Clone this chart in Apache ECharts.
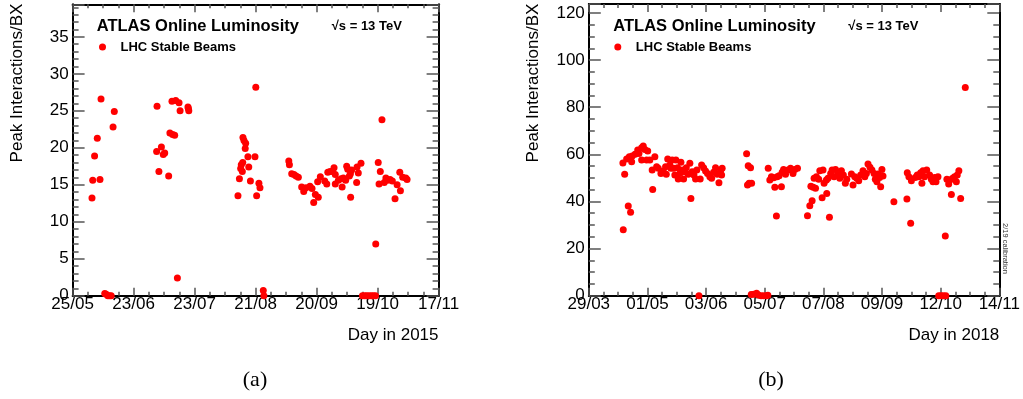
<!DOCTYPE html>
<html>
<head>
<meta charset="utf-8">
<script src="https://cdn.jsdelivr.net/npm/echarts@6/dist/echarts.min.js"></script>
<style>html,body{margin:0;padding:0;background:#fff;}#c{width:1023px;height:399px;}</style>
</head>
<body>
<div id="c"></div>
<script>
// ---- Data (x = days since first axis tick, y = peak interactions per bunch crossing) ----
const ticks2015 = ['25/05','23/06','23/07','21/08','20/09','19/10','17/11'];
const ticks2018 = ['29/03','01/05','03/06','05/07','07/08','09/09','12/10','14/11'];

const days2015 = [9.35,9.7,10.6,11.9,13.2,13.7,15.5,16.2,17.0,17.8,18.6,19.5,20.1,
  40.5,40.7,41.6,42.8,43.7,44.4,46.3,46.9,47.9,48.2,49.2,49.7,50.5,51.3,51.8,55.6,56.0,55.8,
  79.7,80.4,81.0,81.3,81.8,82.0,82.1,82.6,83.2,83.4,84.5,84.9,85.7,87.9,88.3,88.7,89.8,90.3,91.9,92.2,
  104.2,104.5,105.6,106.7,107.7,108.8,110.4,111.4,112.5,114.4,115.4,116.2,117.0,118.1,118.4,119.4,
  121.5,122.5,123.0,124.1,125.2,126.0,126.6,126.6,128.1,129.4,129.9,130.5,131.6,132.1,132.6,133.4,
  133.9,134.0,134.5,136.9,137.1,137.7,139.0,139.7,140.8,141.8,142.9,144.0,145.0,146.0,146.1,147.3,
  147.7,148.3,149.1,150.2,151.0,151.9,153.0,154.1,155.4,156.4,157.7,158.0,159.1,160.6,161.2];
const peak2015 = [13.2,15.6,18.9,21.3,15.7,26.6,0.3,0.2,0,0,0,22.8,24.9,
  19.5,25.6,16.8,20.1,19.1,19.3,16.2,22.0,26.3,21.8,21.7,26.4,2.4,26.1,25.0,25.5,25.0,25.3,
  13.5,15.8,17.2,17.7,16.8,18.0,21.4,21.0,19.9,20.6,18.8,17.4,15.5,18.8,28.2,13.5,15.2,14.6,0.7,0,
  18.2,17.7,16.5,16.4,16.2,16.0,14.7,14.1,14.6,14.8,14.5,12.6,13.7,15.4,13.3,16.1,
  15.5,15.1,16.7,16.8,16.8,17.3,16.4,15.1,15.6,15.8,14.7,15.9,15.6,17.5,17.1,16.2,
  16.5,13.3,17.0,15.3,17.4,16.6,17.9,0,0,0,0,0,0,0,7.0,18.0,
  15.1,16.8,23.8,15.3,15.9,15.6,15.7,15.5,13.1,15.0,16.7,14.2,16.0,15.9,15.7];

const days2018 = [19.1,19.3,20.1,21.2,22.1,22.7,23.4,24.0,24.3,25.9,27.4,28.1,29.6,29.6,30.5,31.4,
  32.4,33.0,34.2,35.5,35.8,37.0,38.0,38.9,40.4,41.7,43.0,43.4,44.2,45.4,46.0,46.7,47.5,48.2,48.8,
  49.7,50.1,51.0,51.6,52.3,53.1,53.8,54.6,55.7,56.6,57.2,57.9,58.9,59.8,60.5,61.7,62.4,63.2,64.3,
  65.4,66.5,67.8,68.8,69.9,71.0,71.9,72.9,73.8,74.4,74.7,
  88.4,88.9,89.3,89.8,90.6,91.2,91.0,92.5,94.0,95.0,96.5,98.0,99.5,100.3,100.5,101.4,102.3,103.6,
  104.2,105.1,105.5,106.6,107.9,108.3,109.1,110.2,111.6,113.0,114.4,115.4,116.9,
  122.5,123.8,124.4,125.1,125.7,126.2,127.0,127.5,128.8,129.4,130.7,131.2,131.8,133.1,133.3,134.0,
  134.8,135.5,136.3,137.4,138.2,139.3,140.6,141.5,142.6,143.7,144.5,147.1,148.0,149.0,150.1,151.2,
  152.3,153.6,154.6,155.5,156.4,157.5,158.6,159.8,160.5,161.4,162.0,162.9,163.5,164.2,164.8,170.9,
  178.2,178.4,179.3,180.3,180.7,182.9,184.0,184.9,185.9,186.6,187.2,188.1,189.3,190.9,191.9,192.8,
  193.7,194.5,195.6,196.0,197.3,198.6,199.7,200.0,200.6,201.6,202.3,203.1,203.8,204.9,205.9,206.4,
  207.3,208.3,210.9];
const peak2018 = [56.3,28.0,51.5,58.0,38.1,59.0,35.4,56.9,59.3,60.0,61.8,60.4,62.8,57.6,63.5,62.1,
  57.6,61.4,57.6,53.3,45.1,59.0,54.7,54.1,51.9,52.9,54.7,51.5,58.0,55.5,54.1,57.6,54.1,51.2,57.6,
  54.3,49.5,51.9,56.6,53.3,49.5,52.6,54.3,51.5,56.2,41.2,52.6,51.2,49.5,53.3,0,49.5,55.5,54.3,
  52.9,51.9,50.5,49.8,52.4,54.3,51.5,47.9,52.9,51.2,54.1,
  60.2,47.0,55.2,47.7,54.3,47.7,0.5,0.6,1.0,0.3,0,0,0,0.2,54.1,49.1,50.5,50.1,
  46.0,33.8,50.5,50.9,46.2,52.4,53.6,51.5,53.3,54.1,51.9,53.6,54.1,
  33.9,38.2,46.5,40.3,46.0,49.8,45.6,50.5,49.4,53.0,41.6,53.3,47.7,49.1,43.4,49.8,
  33.3,51.9,53.3,50.5,53.6,51.2,49.8,53.0,51.2,47.7,49.4,51.6,47.0,50.5,49.8,48.8,
  51.2,53.0,50.5,51.9,55.9,54.5,53.3,51.9,49.4,48.4,51.6,50.2,46.2,53.6,50.8,39.9,
  41.0,52.2,50.5,30.7,48.8,50.2,51.2,50.5,52.2,47.7,53.0,50.5,53.3,51.2,49.4,48.4,
  50.2,48.4,50.5,0,0,0,25.3,0,49.4,47.4,49.1,43.0,49.8,50.5,48.4,51.2,
  53.0,41.3,88.4];

// ---- Chart ----
const FONT = 'Liberation Sans, Arial, sans-serif';
const zip = (a, b) => a.map((v, i) => [v, b[i]]);

const panels = [
  { left: 72.6, width: 366, top: 4.3, height: 291.4, xStep: 29.4, xLabels: ticks2015, yMax: 39.4, yStep: 5, yMinor: 1 },
  { left: 588.8, width: 410.5, top: 4, height: 291.7, xStep: 32.85, xLabels: ticks2018, yMax: 123.8, yStep: 20, yMinor: 5 }
];

const grid = [], xAxis = [], yAxis = [];
panels.forEach((p, g) => {
  grid.push({ left: p.left, top: p.top, width: p.width, height: p.height, containLabel: false });
  const xMax = p.xStep * (p.xLabels.length - 1);
  ['bottom', 'top'].forEach(pos => {
    xAxis.push({
      type: 'value', gridIndex: g, position: pos, min: 0, max: xMax, interval: p.xStep,
      axisLine: { show: true, onZero: false, lineStyle: { color: '#000', width: 2 } },
      axisTick: { show: true, inside: true, length: 8, lineStyle: { color: '#555', width: 1.5 } },
      minorTick: { show: true, splitNumber: 4, length: 4, lineStyle: { color: '#555', width: 1.5 } },
      splitLine: { show: false },
      axisLabel: {
        show: pos === 'bottom', margin: 0, color: '#000', fontSize: 17, fontFamily: FONT,
        formatter: v => { const i = Math.round(v / p.xStep); return Math.abs(v - i * p.xStep) < 1e-6 ? (p.xLabels[i] || '') : ''; }
      }
    });
  });
  ['left', 'right'].forEach(pos => {
    yAxis.push({
      type: 'value', gridIndex: g, position: pos, min: 0, max: p.yMax, interval: p.yStep,
      axisLine: { show: true, onZero: false, lineStyle: { color: '#000', width: 2 } },
      axisTick: { show: true, inside: true, length: 12, lineStyle: { color: '#555', width: 1.5 } },
      splitLine: { show: false },
      axisLabel: {
        show: pos === 'left', margin: 4, color: '#000', fontSize: 17, fontFamily: FONT,
        formatter: v => { const i = Math.round(v / p.yStep); return Math.abs(v - i * p.yStep) < 1e-6 ? String(i * p.yStep) : ''; }
      }
    });
  });
  ['left', 'right'].forEach(pos => {
    yAxis.push({
      type: 'value', gridIndex: g, position: pos, min: 0, max: p.yMax, interval: p.yMinor,
      axisLine: { show: false, onZero: false },
      axisTick: { show: true, inside: true, length: 6, lineStyle: { color: '#555', width: 1.5 } },
      splitLine: { show: false }, axisLabel: { show: false }
    });
  });
});

const legendBase = {
  data: ['LHC Stable Beams'], top: 40.5, itemWidth: 26, itemHeight: 7, icon: 'circle', padding: 0,
  selectedMode: false, textStyle: { fontSize: 13, fontWeight: 'bold', fontFamily: FONT, color: '#000' }
};

const option = {
  animation: false,
  backgroundColor: '#fff',
  grid: grid, xAxis: xAxis, yAxis: yAxis,
  legend: [Object.assign({ left: 99 }, legendBase), Object.assign({ left: 614.3 }, legendBase)],
  series: [
    { type: 'scatter', name: 'LHC Stable Beams', xAxisIndex: 0, yAxisIndex: 0, data: zip(days2015, peak2015),
      symbol: 'circle', symbolSize: 7, itemStyle: { color: '#ff0000', opacity: 1 } },
    { type: 'scatter', name: 'LHC Stable Beams', xAxisIndex: 2, yAxisIndex: 4, data: zip(days2018, peak2018),
      symbol: 'circle', symbolSize: 7, itemStyle: { color: '#ff0000', opacity: 1 } }
  ],
  graphic: [
    { type: 'text', x: 96.7, y: 26, silent: true, style: { text: 'ATLAS Online Luminosity', fill: '#000', font: 'bold 16.5px ' + FONT, verticalAlign: 'middle' } },
    { type: 'text', x: 331.7, y: 26.5, silent: true, style: { text: '√s = 13 TeV', fill: '#000', font: 'bold 13px ' + FONT, verticalAlign: 'middle' } },
    { type: 'text', x: 613.3, y: 26, silent: true, style: { text: 'ATLAS Online Luminosity', fill: '#000', font: 'bold 16.5px ' + FONT, verticalAlign: 'middle' } },
    { type: 'text', x: 848.3, y: 26.5, silent: true, style: { text: '√s = 13 TeV', fill: '#000', font: 'bold 13px ' + FONT, verticalAlign: 'middle' } },
    { type: 'text', x: 17.5, y: 83, rotation: Math.PI / 2, silent: true, style: { text: 'Peak Interactions/BX', fill: '#000', font: '17px ' + FONT, align: 'center', verticalAlign: 'middle' } },
    { type: 'text', x: 533, y: 83, rotation: Math.PI / 2, silent: true, style: { text: 'Peak Interactions/BX', fill: '#000', font: '17px ' + FONT, align: 'center', verticalAlign: 'middle' } },
    { type: 'text', x: 438.5, y: 335, silent: true, style: { text: 'Day in 2015', fill: '#000', font: '17px ' + FONT, align: 'right', verticalAlign: 'middle' } },
    { type: 'text', x: 999.3, y: 335, silent: true, style: { text: 'Day in 2018', fill: '#000', font: '17px ' + FONT, align: 'right', verticalAlign: 'middle' } },
    { type: 'text', x: 255, y: 380, silent: true, style: { text: '(a)', fill: '#000', font: '22px Liberation Serif, Times New Roman, serif', align: 'center', verticalAlign: 'middle' } },
    { type: 'text', x: 771, y: 380, silent: true, style: { text: '(b)', fill: '#000', font: '22px Liberation Serif, Times New Roman, serif', align: 'center', verticalAlign: 'middle' } },
    { type: 'text', x: 1005.5, y: 248.5, rotation: -Math.PI / 2, silent: true, style: { text: '2/19 calibration', fill: '#333', font: '7.5px ' + FONT, align: 'center', verticalAlign: 'middle' } }
  ]
};

const chart = echarts.init(document.getElementById('c'), null, { renderer: 'canvas', width: 1023, height: 399 });
chart.setOption(option);
</script>
</body>
</html>
